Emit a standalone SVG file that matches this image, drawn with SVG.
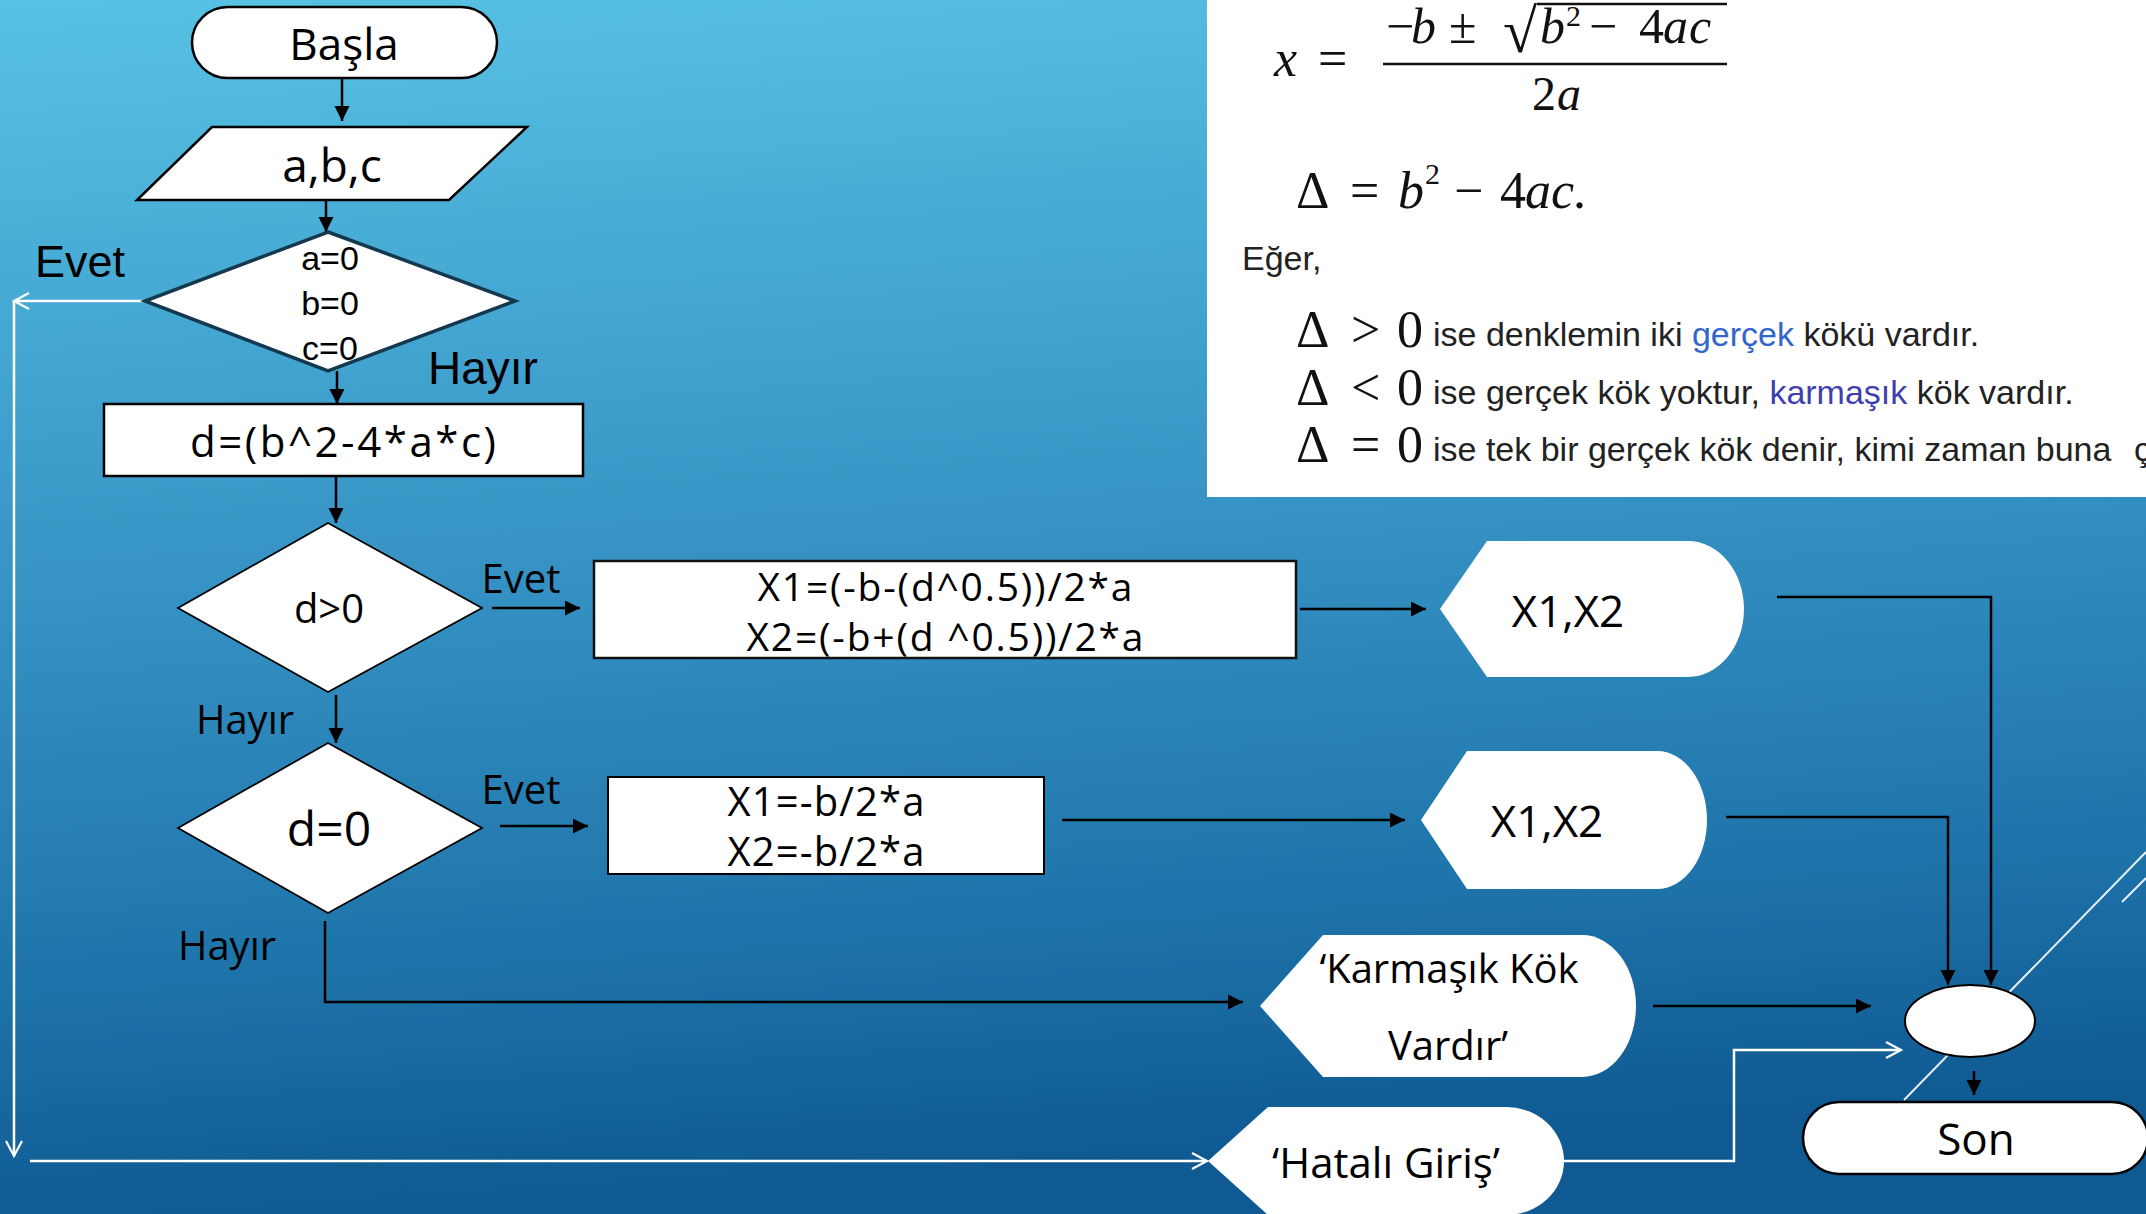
<svg xmlns="http://www.w3.org/2000/svg" width="2146" height="1214" viewBox="0 0 2146 1214">
<defs>
<linearGradient id="bg" x1="0" y1="0" x2="0.12" y2="1">
<stop offset="0" stop-color="#57C2E4"/>
<stop offset="0.5" stop-color="#3591C3"/>
<stop offset="0.8" stop-color="#1E74AA"/>
<stop offset="1" stop-color="#0F5A92"/>
</linearGradient>
<marker id="ah" markerUnits="userSpaceOnUse" markerWidth="16" markerHeight="16" refX="15" refY="7.5" orient="auto"><path d="M0,0 L15,7.5 L0,15 Z" fill="#000"/></marker>
<marker id="aw" markerUnits="userSpaceOnUse" markerWidth="20" markerHeight="20" refX="17" refY="9.5" orient="auto"><path d="M2,1.5 L17,9.5 L2,17.5" fill="none" stroke="#fff" stroke-width="2.2"/></marker>
<style>
.node{fill:#fff;stroke:#000;stroke-width:2.5}
.disp{fill:#fff;stroke:none}
.t{font-family:"Open Sans","Noto Sans",sans-serif;fill:#000;text-anchor:middle}
.a{font-family:"Liberation Sans",Arial,sans-serif;fill:#000}
.c{fill:none;stroke:#000;stroke-width:2.5;marker-end:url(#ah)}
.w{fill:none;stroke:#fff;stroke-width:2.5;marker-end:url(#aw)}
.m{font-family:"Liberation Serif","DejaVu Serif",serif;fill:#111}
.mi{font-style:italic}
.wt{font-family:"Liberation Sans",Arial,sans-serif;fill:#222;font-size:34px}
</style>
</defs>
<rect x="0" y="0" width="2146" height="1214" fill="url(#bg)"/>

<g id="formula-panel">
<rect x="1207" y="0" width="939" height="497" fill="#fff"/>
<text class="m" font-size="52"><tspan class="mi" x="1274" y="76">x</tspan><tspan x="1318" y="76">=</tspan></text>
<text class="m" font-size="50" y="43"><tspan x="1386">−</tspan><tspan class="mi" x="1411">b</tspan><tspan x="1449">±</tspan><tspan x="1503" y="52" font-size="62">√</tspan><tspan class="mi" x="1540" y="43">b</tspan><tspan x="1566" y="26" font-size="30">2</tspan><tspan x="1589" y="43">−</tspan><tspan x="1639">4</tspan><tspan class="mi" x="1663">a</tspan><tspan class="mi" x="1689">c</tspan></text>
<line x1="1537" y1="4" x2="1727" y2="4" stroke="#111" stroke-width="2.5"/>
<line x1="1383" y1="64" x2="1727" y2="64" stroke="#111" stroke-width="2.5"/>
<text class="m" font-size="48" y="110"><tspan x="1532">2</tspan><tspan class="mi" x="1557">a</tspan></text>
<text class="m" font-size="52" y="208"><tspan x="1296">Δ</tspan><tspan x="1350">=</tspan><tspan class="mi" x="1398">b</tspan><tspan x="1425" y="184" font-size="30">2</tspan><tspan x="1454" y="208">−</tspan><tspan x="1500">4</tspan><tspan class="mi" x="1525">a</tspan><tspan class="mi" x="1551">c</tspan><tspan x="1573">.</tspan></text>
<text class="wt" x="1242" y="270" font-size="32">Eğer,</text>
<text class="m" font-size="52" y="347"><tspan x="1296">Δ</tspan><tspan x="1351">&gt;</tspan><tspan x="1397">0</tspan></text>
<text class="m" font-size="52" y="405"><tspan x="1296">Δ</tspan><tspan x="1351">&lt;</tspan><tspan x="1397">0</tspan></text>
<text class="m" font-size="52" y="462"><tspan x="1296">Δ</tspan><tspan x="1351">=</tspan><tspan x="1397">0</tspan></text>
<text class="wt" x="1433" y="346">ise denklemin iki <tspan fill="#3366CC">gerçek</tspan> kökü vardır.</text>
<text class="wt" x="1433" y="404">ise gerçek kök yoktur, <tspan fill="#3F3FB0">karmaşık</tspan> kök vardır.</text>
<text class="wt" x="1433" y="461">ise tek bir gerçek kök denir, kimi zaman buna</text>
<text class="wt" x="2134" y="461" fill="#3366CC">ç</text>
</g>

<g id="connectors">
<path class="c" d="M342,78 L342,121"/>
<path class="c" d="M326,200 L326,232"/>
<path class="c" d="M337,371 L337,404"/>
<path class="c" d="M336,476 L336,523"/>
<path class="c" d="M492,608 L580,608"/>
<path class="c" d="M336,695 L336,743"/>
<path class="c" d="M500,826 L588,826"/>
<path class="c" d="M1300,609 L1426,609"/>
<path class="c" d="M1062,820 L1405,820"/>
<path class="c" d="M1777,597 L1991,597 L1991,985"/>
<path class="c" d="M1726,817 L1948,817 L1948,985"/>
<path class="c" d="M325,921 L325,1002 L1243,1002"/>
<path class="c" d="M1653,1006 L1871,1006"/>
<path class="c" d="M1974,1071 L1974,1095"/>
<path class="w" d="M145,301 L14,301"/>
<path class="w" d="M14,301 L14,1156"/>
<path class="w" d="M30,1161 L1207,1161"/>
<path class="w" d="M1564,1161 L1734,1161 L1734,1050 L1901,1050"/>
</g>

<g id="decor" stroke="#fff" stroke-width="2" opacity="0.9">
<line x1="1904" y1="1100" x2="2146" y2="852"/>
<line x1="2122" y1="902" x2="2146" y2="878"/>
</g>

<g id="start">
<rect class="node" x="192" y="7" width="305" height="71" rx="35.5"/>
<text class="t" x="344" y="60" font-size="44">Başla</text>
</g>
<g id="input">
<polygon class="node" points="212,127 527,127 449,200 137,200"/>
<text class="t" x="332" y="182" font-size="46">a,b,c</text>
</g>
<g id="check-zero">
<polygon class="node" points="328,232 515,301 328,371 145,301" style="stroke:#14384F;stroke-width:3.5"/>
<text class="a" x="330" y="270" font-size="34" text-anchor="middle">a=0</text>
<text class="a" x="330" y="315" font-size="34" text-anchor="middle">b=0</text>
<text class="a" x="330" y="360" font-size="34" text-anchor="middle">c=0</text>
</g>
<text class="a" x="35" y="277" font-size="45">Evet</text>
<text class="a" x="428" y="384" font-size="46">Hayır</text>
<g id="calc-d">
<rect class="node" x="104" y="404" width="479" height="72"/>
<text class="t" x="343" y="457" font-size="42" textLength="306">d=(b^2-4*a*c)</text>
</g>
<g id="d-positive">
<polygon class="node" points="328,523 482,608 328,692 178,608" style="stroke-width:1.8"/>
<text class="t" x="329" y="623" font-size="40">d&gt;0</text>
</g>
<text class="t" x="521" y="593" font-size="40">Evet</text>
<text class="t" x="245" y="734" font-size="40">Hayır</text>
<g id="roots-two">
<rect class="node" x="594" y="561" width="702" height="97" style="stroke:#111"/>
<text class="t" x="945" y="601" font-size="39" textLength="375">X1=(-b-(d^0.5))/2*a</text>
<text class="t" x="945" y="651" font-size="39" textLength="397">X2=(-b+(d ^0.5))/2*a</text>
</g>
<g id="out-two">
<path class="disp" d="M1440,609 L1487,541 L1688,541 A56,68 0 0 1 1688,677 L1487,677 Z"/>
<text class="t" x="1568" y="627" font-size="44">X1,X2</text>
</g>
<g id="d-zero">
<polygon class="node" points="328,743 482,828 328,913 178,828" style="stroke-width:1.8"/>
<text class="t" x="329" y="846" font-size="48">d=0</text>
</g>
<text class="t" x="521" y="804" font-size="40">Evet</text>
<text class="t" x="227" y="960" font-size="40">Hayır</text>
<g id="roots-one">
<rect class="node" x="608" y="777" width="436" height="97" style="stroke-width:2"/>
<text class="t" x="826" y="816" font-size="40" textLength="197">X1=-b/2*a</text>
<text class="t" x="826" y="866" font-size="40" textLength="197">X2=-b/2*a</text>
</g>
<g id="out-one">
<path class="disp" d="M1421,820 L1467,751 L1657,751 A50,69 0 0 1 1657,889 L1467,889 Z"/>
<text class="t" x="1547" y="837" font-size="44">X1,X2</text>
</g>
<g id="out-complex">
<path class="disp" d="M1260,1006 L1323,935 L1582,935 A54,71 0 0 1 1582,1077 L1323,1077 Z"/>
<text class="t" x="1449" y="983" font-size="40">‘Karmaşık Kök</text>
<text class="t" x="1448" y="1060" font-size="40">Vardır’</text>
</g>
<g id="out-error">
<path class="disp" d="M1208,1161 L1268,1107 L1506,1107 A58,54 0 0 1 1506,1215 L1268,1215 Z"/>
<text class="t" x="1386" y="1178" font-size="42">‘Hatalı Giriş’</text>
</g>
<g id="merge">
<ellipse class="node" cx="1970" cy="1021" rx="65" ry="36" style="stroke-width:2"/>
</g>
<g id="end">
<rect class="node" x="1803" y="1102" width="345" height="72" rx="36"/>
<text class="t" x="1976" y="1155" font-size="44">Son</text>
</g>
</svg>
